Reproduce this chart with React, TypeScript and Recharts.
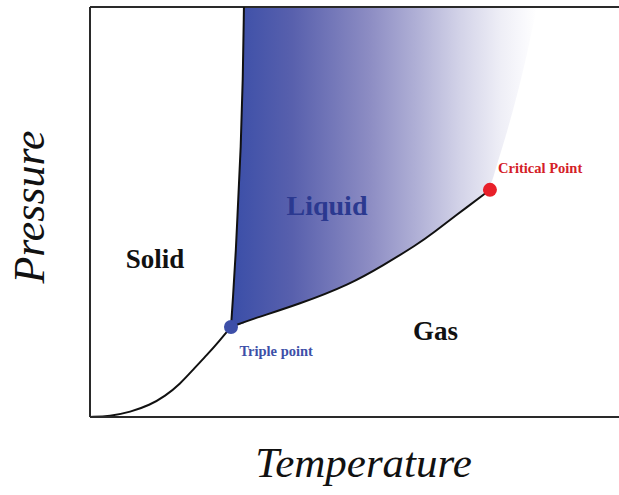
import React from "react";
import {
  ComposedChart,
  Area,
  Line,
  Scatter,
  XAxis,
  YAxis,
  ReferenceLine,
  ReferenceDot,
} from "recharts";

// Phase boundaries. T and P are both in % of the axis range.
const sublimation = [
  { T: 0, P: 0 },
  { T: 3.8, P: 0.2 },
  { T: 7.6, P: 1.2 },
  { T: 11.3, P: 2.9 },
  { T: 14.2, P: 5.1 },
  { T: 17.0, P: 8.0 },
  { T: 19.8, P: 12.0 },
  { T: 22.1, P: 15.1 },
  { T: 24.6, P: 18.8 },
  { T: 26.65, P: 21.95 },
];

const fusion = [
  { T: 26.65, P: 21.95 },
  { T: 27.0, P: 28.5 },
  { T: 27.6, P: 40.7 },
  { T: 28.0, P: 52.9 },
  { T: 28.5, P: 65.1 },
  { T: 28.9, P: 82.2 },
  { T: 29.1, P: 100 },
];

const vaporization = [
  { T: 26.65, P: 21.95 },
  { T: 30.2, P: 23.7 },
  { T: 39.7, P: 27.6 },
  { T: 49.2, P: 32.4 },
  { T: 55.4, P: 37.0 },
  { T: 61.8, P: 42.0 },
  { T: 65.2, P: 45.2 },
  { T: 69.0, P: 49.0 },
  { T: 75.6, P: 55.4 },
];

// liquid region: T, lower P, upper P (corner where the melting line meets the top is held twice)
const liquidT = [26.65, 27.0, 27.6, 28.0, 28.5, 28.9, 29.1, 29.1, 29.1, 30.2, 39.7, 49.2, 55.4, 61.8, 65.2, 69.0, 75.6, 76.2, 78.1, 80.0, 81.7, 83.2, 84.5];
const liquidLow = [21.95, 22.1, 22.3, 22.5, 22.6, 22.8, 22.9, 22.9, 22.9, 23.7, 27.6, 32.4, 37.0, 42.0, 45.2, 49.0, 55.4, 58.5, 66.3, 74.9, 83.4, 92.0, 100];
const liquidHigh = [21.95, 28.5, 40.7, 52.9, 65.1, 82.2, 100, 100, 100, 100, 100, 100, 100, 100, 100, 100, 100, 100, 100, 100, 100, 100, 100];

const triplePoint = [{ T: 26.65, P: 21.95 }];
const criticalPoint = [{ T: 75.6, P: 55.4 }];

const phaseLabels = [
  { text: "Solid", T: 12.3, P: 38.8, color: "#111111", size: 27 },
  { text: "Liquid", T: 44.8, P: 51.7, color: "#2b3990", size: 28 },
  { text: "Gas", T: 65.3, P: 21.2, color: "#111111", size: 27 },
  { text: "Triple point", T: 35.2, P: 16.1, color: "#3d4fa8", size: 14.5 },
  { text: "Critical Point", T: 85.1, P: 60.7, color: "#d42027", size: 14.5 },
];

const liquidData = liquidT.map((T, i) => ({ T, band: [liquidLow[i], liquidHigh[i]] }));

const serif = '"Liberation Serif", "Times New Roman", serif';
const frame = "#2a2a2a";

const Dot = (color: string) => (props: any) =>
  <circle cx={props.cx} cy={props.cy} r={7} fill={color} />;

export default function App() {
  return (
    <div style={{ position: "absolute", left: 0, top: 0, background: "#fff" }}>
      <ComposedChart width={619} height={495} margin={{ top: 7, right: 0, bottom: 0, left: 0 }}>
        <defs>
          <linearGradient id="liquidFill" x1="0" y1="0" x2="1" y2="0">
            <stop offset="0" stopColor="#3a4ea8" />
            <stop offset="0.2" stopColor="#5860ad" />
            <stop offset="0.45" stopColor="#8c8cc3" />
            <stop offset="0.6" stopColor="#aeaed5" />
            <stop offset="0.75" stopColor="#d3d3e8" />
            <stop offset="0.88" stopColor="#eeeef6" />
            <stop offset="0.95" stopColor="#f8f8fc" />
            <stop offset="1" stopColor="#ffffff" />
          </linearGradient>
        </defs>
        <XAxis
          type="number"
          dataKey="T"
          domain={[0, 100]}
          height={78}
          tick={false}
          tickLine={false}
          axisLine={{ stroke: frame, strokeWidth: 2 }}
          label={{
            content: (p: any) => {
              const vb = p.viewBox;
              return (
                <text x={vb.x + vb.width / 2 + 9} y={vb.y + 60} textAnchor="middle"
                  fontFamily={serif} fontStyle="italic" fontSize={43} fill="#111">
                  Temperature
                </text>
              );
            },
          }}
        />
        <YAxis
          type="number"
          domain={[0, 100]}
          width={90}
          tick={false}
          tickLine={false}
          axisLine={{ stroke: frame, strokeWidth: 2 }}
          label={{
            content: (p: any) => {
              const vb = p.viewBox;
              const x = vb.x + 44;
              const y = vb.y + 200;
              return (
                <text x={x} y={y} transform={`rotate(-90 ${x} ${y})`} textAnchor="middle"
                  fontFamily={serif} fontStyle="italic" fontSize={44} fill="#111">
                  Pressure
                </text>
              );
            },
          }}
        />
        <ReferenceLine y={100} stroke={frame} strokeWidth={2} />
        <Area
          data={liquidData}
          dataKey="band"
          type="basis"
          stroke="none"
          fill="url(#liquidFill)"
          fillOpacity={1}
          isAnimationActive={false}
        />
        <Line data={sublimation} dataKey="P" type="basis" stroke="#111" strokeWidth={2} dot={false} isAnimationActive={false} />
        <Line data={fusion} dataKey="P" type="basis" stroke="#111" strokeWidth={2} dot={false} isAnimationActive={false} />
        <Line data={vaporization} dataKey="P" type="basis" stroke="#111" strokeWidth={2} dot={false} isAnimationActive={false} />
        <Scatter data={triplePoint} dataKey="P" shape={Dot("#3d4fa8")} isAnimationActive={false} />
        <Scatter data={criticalPoint} dataKey="P" shape={Dot("#e8202a")} isAnimationActive={false} />
        {phaseLabels.map((l) => (
          <ReferenceDot
            key={l.text}
            x={l.T}
            y={l.P}
            r={0}
            stroke="none"
            label={{
              value: l.text,
              position: "center",
              fill: l.color,
              fontSize: l.size,
              fontWeight: "bold",
              fontFamily: serif,
            }}
          />
        ))}
      </ComposedChart>
    </div>
  );
}
